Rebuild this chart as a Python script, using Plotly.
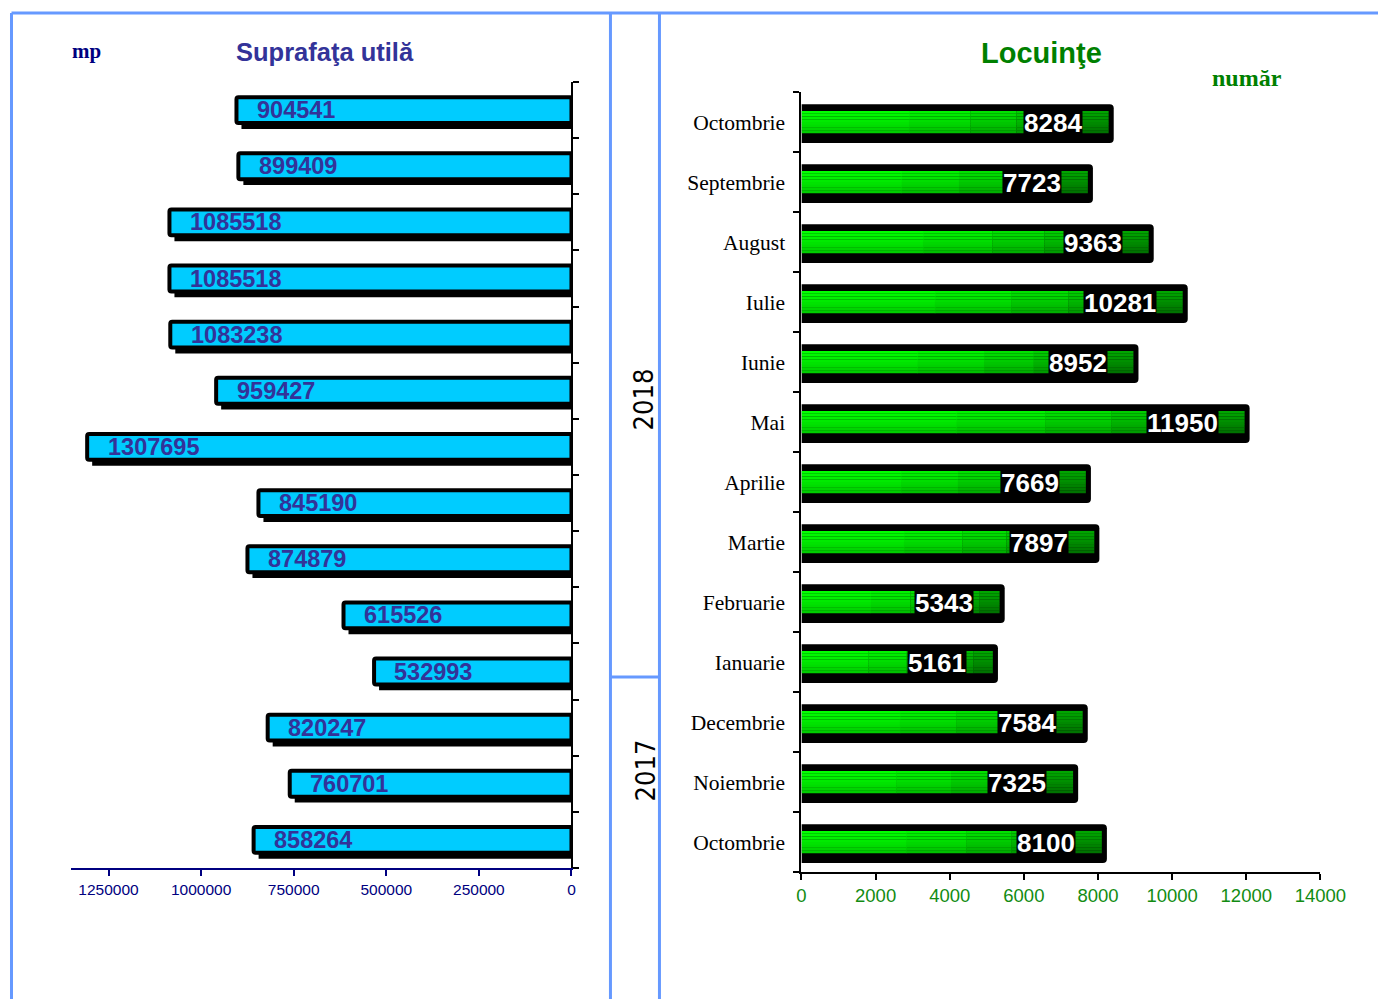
import plotly.graph_objects as go

# ---------------- data ----------------
area_values = [904541, 899409, 1085518, 1085518, 1083238, 959427, 1307695,
               845190, 874879, 615526, 532993, 820247, 760701, 858264]
area_ticks = [1250000, 1000000, 750000, 500000, 250000, 0]

dwell_months = ["Octombrie", "Septembrie", "August", "Iulie", "Iunie", "Mai",
                "Aprilie", "Martie", "Februarie", "Ianuarie", "Decembrie",
                "Noiembrie", "Octombrie"]
dwell_values = [8284, 7723, 9363, 10281, 8952, 11950, 7669, 7897, 5343, 5161,
                7584, 7325, 8100]
dwell_ticks = [0, 2000, 4000, 6000, 8000, 10000, 12000, 14000]

years = ["2018", "2017"]

# ---------------- layout helpers ----------------
# horizontal mapping observed for the renderer: image_x = SX * page_x + OX
SX, OX = 0.978, 4.5
WF, H = 1405, 999


def fx(px):
    return ((px - OX) / SX) / WF


def fy(py):
    return 1 - py / H


def sh(p):
    return p / SX


na = len(area_values)
nd = len(dwell_values)
ya = list(range(na))
yd = list(range(nd))

fig = go.Figure()

# ----- left chart: suprafata utila -----
fig.add_trace(go.Bar(
    y=[v + 0.07 for v in ya], x=area_values, base=-13500, orientation="h",
    width=0.53, marker=dict(color="black", line=dict(width=0)),
    xaxis="x", yaxis="y", hoverinfo="skip", showlegend=False))
fig.add_trace(go.Bar(
    y=ya, x=area_values, orientation="h", width=0.46,
    marker=dict(color="#00CCFF", line=dict(color="black", width=4), cornerradius=2),
    xaxis="x", yaxis="y", hoverinfo="skip", showlegend=False))

# ----- right chart: locuinte -----
fig.add_trace(go.Bar(
    y=[v + 0.028 for v in yd], x=[v + 140 for v in dwell_values], orientation="h",
    width=0.645, marker=dict(color="black", line=dict(width=0), cornerradius=4),
    xaxis="x2", yaxis="y2", hoverinfo="skip", showlegend=False))

# green bar drawn as a grid of tinted pieces (gradient look)
seg_fracs = [0.0, 0.35, 0.55, 0.7, 0.8, 0.9, 1.0]
h_dark = [0, 12, 30, 50, 70, 90]
v_dark = [0, 7, 14, 21, 28, 35, 42, 50]
total_w = 0.37
sw = total_w / len(v_dark)
for vi, vd in enumerate(v_dark):
    for hi, hd in enumerate(h_dark):
        g = max(0, 255 - vd - hd)
        f0, f1 = seg_fracs[hi], seg_fracs[hi + 1]
        fig.add_trace(go.Bar(
            y=yd, x=[v * (f1 - f0) * 1.004 for v in dwell_values],
            base=[v * f0 for v in dwell_values], orientation="h",
            width=sw * 1.05, offset=-total_w / 2 + vi * sw,
            marker=dict(color=f"rgb(0,{g},0)", line=dict(width=0)),
            xaxis="x2", yaxis="y2", hoverinfo="skip", showlegend=False))

annotations = []
for i, v in enumerate(area_values):
    annotations.append(dict(
        x=v, y=i, xref="x", yref="y", text=str(v), showarrow=False,
        xanchor="left", yanchor="middle", xshift=sh(18),
        font=dict(family="Liberation Sans, Arial", size=23.5, color="#333399", weight="bold")))
for i, v in enumerate(dwell_values):
    annotations.append(dict(
        x=v, y=i, xref="x2", yref="y2", text=str(v), showarrow=False,
        xanchor="right", yanchor="middle", xshift=sh(-25), yshift=-1,
        bgcolor="black", borderpad=0,
        font=dict(family="Liberation Sans, Arial", size=26, color="white", weight="bold")))

annotations += [
    dict(x=fx(325), y=fy(52), xref="paper", yref="paper", text="Suprafaţa utilă",
         showarrow=False, xanchor="center", yanchor="middle",
         font=dict(family="Liberation Sans, Arial", size=25.5, color="#333399", weight="bold")),
    dict(x=fx(86), y=fy(51), xref="paper", yref="paper", text="mp",
         showarrow=False, xanchor="center", yanchor="middle",
         font=dict(family="Liberation Serif, Times New Roman", size=21, color="#000080", weight="bold")),
    dict(x=fx(1041), y=fy(53), xref="paper", yref="paper", text="Locuinţe",
         showarrow=False, xanchor="center", yanchor="middle",
         font=dict(family="Liberation Sans, Arial", size=29, color="#008000", weight="bold")),
    dict(x=fx(1247), y=fy(78), xref="paper", yref="paper", text="număr",
         showarrow=False, xanchor="center", yanchor="middle",
         font=dict(family="Liberation Serif, Times New Roman", size=24, color="#008000", weight="bold")),
    dict(x=fx(643), y=fy(399), xref="paper", yref="paper", text=years[0],
         showarrow=False, xanchor="center", yanchor="middle", textangle=-90,
         font=dict(family="DejaVu Sans Condensed, Liberation Sans Narrow", size=27, color="black")),
    dict(x=fx(645), y=fy(770), xref="paper", yref="paper", text=years[1],
         showarrow=False, xanchor="center", yanchor="middle", textangle=-90,
         font=dict(family="DejaVu Sans Condensed, Liberation Sans Narrow", size=27, color="black")),
]

frame = "#6699FF"
shapes = [
    dict(type="line", xref="paper", yref="paper", x0=fx(11), x1=1, y0=fy(13), y1=fy(13),
         line=dict(color=frame, width=3)),
    dict(type="line", xref="paper", yref="paper", x0=fx(11), x1=fx(11), y0=fy(13), y1=0,
         line=dict(color=frame, width=3)),
    dict(type="line", xref="paper", yref="paper", x0=fx(610), x1=fx(610), y0=fy(13), y1=0,
         line=dict(color=frame, width=3)),
    dict(type="line", xref="paper", yref="paper", x0=fx(659), x1=fx(659), y0=fy(13), y1=0,
         line=dict(color=frame, width=3)),
    dict(type="line", xref="paper", yref="paper", x0=fx(610), x1=fx(659), y0=fy(677), y1=fy(677),
         line=dict(color=frame, width=3)),
]

fig.update_layout(
    width=WF, height=H, margin=dict(l=0, r=0, t=0, b=0),
    paper_bgcolor="white", plot_bgcolor="rgba(0,0,0,0)",
    barmode="overlay", showlegend=False,
    annotations=annotations, shapes=shapes,
    xaxis=dict(domain=[fx(71), fx(571)], range=[1350000, 0], anchor="y",
               tickmode="array", tickvals=area_ticks, ticktext=[str(t) for t in area_ticks],
               tickfont=dict(family="Liberation Sans, Arial", size=15.5, color="#000080"),
               showline=True, linecolor="#000080", linewidth=2,
               ticks="outside", ticklen=6, tickwidth=2, tickcolor="#000080",
               showgrid=False, zeroline=False, fixedrange=True),
    yaxis=dict(domain=[fy(868), fy(82)], range=[na - 0.5, -0.5], anchor="x", side="right",
               showline=True, linecolor="black", linewidth=2,
               tickmode="array", tickvals=[i - 0.5 for i in range(na + 1)],
               showticklabels=False, ticks="outside", ticklen=6, tickwidth=2, tickcolor="black",
               showgrid=False, zeroline=False, fixedrange=True),
    xaxis2=dict(domain=[fx(801), fx(1320)], range=[0, 14000], anchor="y2",
                tickmode="array", tickvals=dwell_ticks, ticktext=[str(t) for t in dwell_ticks],
                tickfont=dict(family="Liberation Sans, Arial", size=18.5, color="#128C12"),
                showline=True, linecolor="black", linewidth=2,
                ticks="outside", ticklen=6, tickwidth=2, tickcolor="black",
                showgrid=False, zeroline=False, fixedrange=True),
    yaxis2=dict(domain=[fy(872), fy(92)], range=[nd - 0.5, -0.5], anchor="x2",
                showline=True, linecolor="black", linewidth=2,
                tickmode="array", tickvals=yd, ticktext=dwell_months,
                tickfont=dict(family="Liberation Serif, Times New Roman", size=21.5, color="black"),
                ticks="", ticklabelstandoff=10,
                minor=dict(tickmode="array", tickvals=[i - 0.5 for i in range(nd + 1)],
                           ticks="outside", ticklen=6, tickwidth=2, tickcolor="black",
                           showgrid=False),
                showgrid=False, zeroline=False, fixedrange=True),
)

fig.write_html("out.html", config={"displayModeBar": False},
               post_script="document.body.style.margin='0';document.documentElement.style.overflow='hidden';")
